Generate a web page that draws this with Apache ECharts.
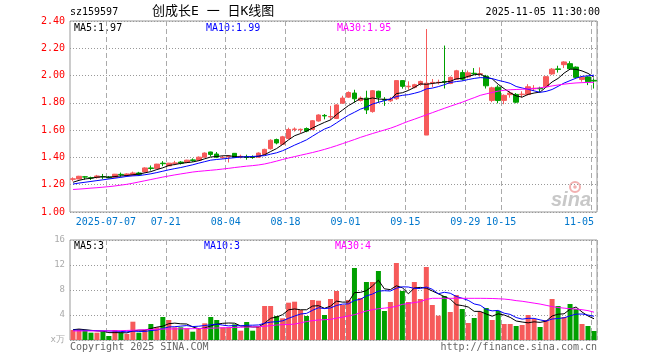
<!DOCTYPE html>
<html><head><meta charset="utf-8">
<script src="https://cdn.jsdelivr.net/npm/echarts@6/dist/echarts.min.js"></script>
<style>html,body{margin:0;padding:0;background:#fff}#c{width:660px;height:360px}</style>
</head><body><div id="c"></div>
<script>
const dates = ['2025-06-27','2025-06-30',
'2025-07-01','2025-07-02','2025-07-03','2025-07-04','2025-07-07','2025-07-08','2025-07-09','2025-07-10','2025-07-11','2025-07-14','2025-07-15','2025-07-16','2025-07-17','2025-07-18','2025-07-21','2025-07-22','2025-07-23','2025-07-24','2025-07-25','2025-07-28','2025-07-29','2025-07-30','2025-07-31',
'2025-08-01','2025-08-04','2025-08-05','2025-08-06','2025-08-07','2025-08-08','2025-08-11','2025-08-12','2025-08-13','2025-08-14','2025-08-15','2025-08-18','2025-08-19','2025-08-20','2025-08-21','2025-08-22','2025-08-25','2025-08-26','2025-08-27','2025-08-28','2025-08-29',
'2025-09-01','2025-09-02','2025-09-03','2025-09-04','2025-09-05','2025-09-08','2025-09-09','2025-09-10','2025-09-11','2025-09-12','2025-09-15','2025-09-16','2025-09-17','2025-09-18','2025-09-19','2025-09-22','2025-09-23','2025-09-24','2025-09-25','2025-09-26','2025-09-29','2025-09-30',
'2025-10-09','2025-10-10','2025-10-13','2025-10-14','2025-10-15','2025-10-16','2025-10-17','2025-10-20','2025-10-21','2025-10-22','2025-10-23','2025-10-24','2025-10-27','2025-10-28','2025-10-29','2025-10-30','2025-10-31',
'2025-11-03','2025-11-04','2025-11-05'];
const tickDates = ['2025-07-07','2025-07-21','2025-08-04','2025-08-18','2025-09-01','2025-09-15','2025-09-29','2025-10-15','2025-11-05'];

const opens = [1.240,1.242,1.258,1.251,1.252,1.260,1.256,1.254,1.276,1.267,1.269,1.286,1.294,1.323,1.318,1.358,1.338,1.356,1.366,1.363,1.382,1.380,1.402,1.440,1.425,1.398,1.405,1.430,1.405,1.404,
1.404,1.402,1.422,1.464,1.531,1.496,1.538,1.605,1.603,1.612,1.605,1.667,1.708,1.697,1.686,1.798,1.842,1.872,1.817,1.835,
1.736,1.885,1.825,1.815,1.830,1.963,1.918,1.914,1.935,1.564,1.946,1.948,1.957,1.942,1.973,2.022,1.990,2.017,2.010,1.995,
1.818,1.915,1.818,1.860,1.862,1.860,1.862,1.903,1.907,1.918,2.012,2.049,2.080,2.087,2.062,1.972,1.990,1.965];
const closes = [1.243,1.262,1.256,1.249,1.264,1.258,1.250,1.277,1.273,1.279,1.286,1.274,1.323,1.319,1.351,1.354,1.358,1.360,1.358,1.380,1.378,1.402,1.432,1.422,1.402,1.400,1.408,1.400,1.408,1.400,
1.400,1.432,1.459,1.526,1.506,1.551,1.605,1.608,1.606,1.593,1.669,1.711,1.704,1.700,1.785,1.835,1.876,1.830,1.835,1.748,
1.889,1.840,1.820,1.827,1.963,1.921,1.922,1.933,1.957,1.944,1.950,1.951,1.953,1.987,2.035,1.973,2.020,2.013,2.013,1.925,
1.910,1.817,1.855,1.872,1.805,1.864,1.918,1.907,1.903,1.992,2.047,2.045,2.100,2.050,1.987,1.987,1.955,1.960];
const highs = [1.254,1.265,1.264,1.259,1.272,1.279,1.264,1.279,1.289,1.284,1.296,1.294,1.328,1.341,1.353,1.373,1.360,1.375,1.373,1.383,1.393,1.407,1.437,1.442,1.440,1.412,1.417,1.432,1.420,1.420,
1.415,1.437,1.464,1.533,1.538,1.558,1.618,1.620,1.612,1.620,1.674,1.716,1.718,1.778,1.790,1.852,1.884,1.896,1.847,1.889,
1.894,1.889,1.842,1.842,1.963,1.965,1.958,1.940,1.963,2.341,1.975,1.970,2.220,1.993,2.042,2.042,2.037,2.055,2.060,2.005,
1.918,1.930,1.862,1.885,1.872,1.885,1.937,1.930,1.918,1.997,2.055,2.072,2.105,2.105,2.067,1.992,1.995,1.980];
const lows = [1.225,1.240,1.237,1.235,1.245,1.242,1.247,1.252,1.259,1.259,1.267,1.264,1.289,1.304,1.316,1.336,1.336,1.343,1.348,1.358,1.368,1.375,1.398,1.407,1.395,1.390,1.363,1.398,1.393,1.383,
1.390,1.398,1.417,1.457,1.496,1.494,1.533,1.590,1.578,1.585,1.600,1.662,1.679,1.674,1.681,1.793,1.837,1.802,1.810,1.718,
1.728,1.800,1.778,1.807,1.822,1.904,1.896,1.906,1.925,1.564,1.915,1.935,1.905,1.937,1.968,1.963,1.980,2.005,1.993,1.905,
1.805,1.797,1.790,1.838,1.797,1.838,1.855,1.887,1.880,1.912,2.005,2.022,2.055,2.042,1.980,1.955,1.930,1.905];
const volumes = [1.6,1.76,1.6,1.17,1.17,1.33,0.64,1.6,1.17,0.96,2.93,1.17,1.6,2.56,2.03,3.68,3.2,2.03,2.03,1.87,1.33,1.76,2.67,3.68,3.2,2.03,2.03,2.5,1.49,2.88,
1.49,2.13,5.44,5.44,3.84,3.47,5.97,6.13,4.8,3.84,6.4,6.29,4.0,6.56,7.84,5.6,6.4,11.52,6.72,9.28,
9.28,11.04,4.64,6.08,12.32,7.84,6.08,9.28,6.56,11.68,5.6,3.89,7.04,4.48,7.2,4.96,2.72,3.52,4.48,5.12,
3.2,4.64,2.56,2.56,2.24,2.4,4.0,3.36,2.08,3.2,6.56,5.44,3.68,5.76,4.96,2.56,2.24,1.44];

const ma5 = [1.218,1.232,1.242,1.247,1.255,1.258,1.255,1.260,1.264,1.267,1.273,1.278,1.287,1.296,1.311,1.324,1.341,1.348,1.356,1.362,1.367,1.376,1.390,1.403,1.407,1.412,1.413,1.406,1.404,1.403,
1.403,1.408,1.420,1.443,1.465,1.495,1.529,1.559,1.575,1.593,1.616,1.637,1.657,1.675,1.714,1.747,1.780,1.805,1.832,1.825,
1.836,1.828,1.826,1.825,1.868,1.874,1.891,1.913,1.939,1.936,1.942,1.948,1.952,1.958,1.976,1.980,1.994,2.006,2.011,1.989,
1.976,1.936,1.904,1.875,1.851,1.842,1.862,1.872,1.879,1.916,1.953,1.979,2.018,2.047,2.046,2.034,2.016,1.988];
const ma10 = [1.205,1.212,1.218,1.224,1.230,1.236,1.242,1.248,1.254,1.261,1.265,1.267,1.273,1.280,1.289,1.299,1.309,1.318,1.326,1.336,1.346,1.358,1.369,1.380,1.385,1.389,1.394,1.398,1.403,1.405,
1.407,1.410,1.413,1.424,1.434,1.449,1.469,1.490,1.509,1.529,1.556,1.583,1.608,1.625,1.653,1.682,1.709,1.731,1.754,1.769,
1.791,1.804,1.816,1.829,1.846,1.855,1.860,1.870,1.882,1.902,1.908,1.919,1.933,1.949,1.956,1.961,1.971,1.979,1.985,1.983,
1.978,1.965,1.955,1.943,1.920,1.909,1.899,1.888,1.877,1.884,1.898,1.921,1.945,1.963,1.981,1.994,1.998,2.003];
const ma30 = [1.165,1.168,1.171,1.175,1.178,1.182,1.186,1.191,1.197,1.203,1.211,1.220,1.229,1.238,1.247,1.256,1.264,1.272,1.279,1.286,1.293,1.298,1.302,1.306,1.310,1.315,1.320,1.326,1.331,1.336,
1.340,1.345,1.352,1.362,1.373,1.385,1.396,1.406,1.416,1.426,1.436,1.447,1.459,1.472,1.486,1.501,1.516,1.531,1.547,1.561,
1.575,1.588,1.601,1.614,1.630,1.648,1.665,1.680,1.696,1.712,1.728,1.744,1.760,1.775,1.790,1.805,1.822,1.838,1.855,1.866,
1.876,1.886,1.892,1.896,1.898,1.900,1.902,1.905,1.910,1.917,1.924,1.931,1.937,1.942,1.946,1.948,1.950,1.950];
const volMa5 = [1.65,1.75,1.65,1.55,1.46,1.41,1.18,1.18,1.18,1.14,1.46,1.57,1.57,1.84,2.06,2.21,2.61,2.70,2.59,2.56,2.09,1.80,1.93,2.26,2.53,2.67,2.72,2.69,2.25,2.19,
2.08,2.10,2.69,3.48,3.67,4.06,4.83,4.97,4.84,4.84,5.43,5.49,5.07,5.42,6.22,6.06,6.08,7.58,7.62,7.90,
8.64,9.57,8.19,8.06,8.67,8.38,7.39,8.32,8.42,8.29,7.84,7.40,6.95,6.54,5.64,5.51,5.28,4.58,4.58,4.16,
3.81,4.19,4.00,3.62,3.04,2.88,2.75,2.91,2.82,3.01,3.84,4.13,4.19,4.93,5.28,4.48,3.85,3.40];
const volMa10 = [1.6,1.58,1.55,1.52,1.5,1.48,1.45,1.42,1.38,1.30,1.43,1.37,1.37,1.51,1.60,1.83,2.09,2.13,2.22,2.31,2.15,2.21,2.32,2.43,2.55,2.38,2.26,2.31,2.26,2.36,
2.37,2.41,2.69,2.86,2.93,3.07,3.47,3.83,4.16,4.26,4.75,5.16,5.02,5.13,5.53,5.74,5.79,6.33,6.52,7.06,
7.35,7.82,7.89,7.84,8.29,8.51,8.48,8.26,8.24,8.48,8.11,7.40,7.64,7.48,6.97,6.68,6.34,5.77,5.56,4.90,
4.66,4.74,4.29,4.10,3.60,3.34,3.47,3.46,3.22,3.02,3.36,3.44,3.55,3.87,4.14,4.16,3.99,3.80];
const volMa30 = [1.45,1.45,1.45,1.45,1.45,1.46,1.47,1.48,1.5,1.53,1.56,1.6,1.64,1.68,1.72,1.75,1.77,1.78,1.79,1.8,1.81,1.83,1.86,1.89,1.92,1.95,1.98,2.01,2.04,2.07,
2.1,2.13,2.2,2.3,2.4,2.45,2.48,2.55,2.75,2.95,3.1,3.2,3.25,3.3,3.5,3.65,3.85,4.05,4.35,4.65,
4.85,5.0,5.1,5.2,5.4,5.7,5.85,6.0,6.13,6.5,6.67,6.67,6.67,6.67,6.67,6.67,6.67,6.67,6.67,6.66,
6.64,6.6,6.55,6.45,6.3,6.2,6.05,5.9,5.75,5.55,5.35,5.2,5.1,5.0,4.95,4.85,4.7,4.45];
const volUnit = 'x万';

const UP = '#f65a5a', DOWN = '#00a000';
const MONO = 'DejaVu Sans Mono';
const tickIdx = new Set(tickDates.map(d => dates.indexOf(d)));
const lastTick = dates.indexOf(tickDates[tickDates.length - 1]);
const firstTick = dates.indexOf(tickDates[0]);
const showTick = (i) => tickIdx.has(i);

const candleData = dates.map((d, i) => [opens[i], closes[i], lows[i], highs[i]]);
const volData = volumes.map((v, i) => ({ value: v, itemStyle: { color: closes[i] >= opens[i] ? UP : DOWN } }));

const dashV = { show: true, interval: showTick, lineStyle: { color: '#aaa', type: [5, 3], width: 1 } };
const dotH = { show: true, lineStyle: { color: '#999', type: [1, 2], width: 1 } };

const chart = echarts.init(document.getElementById('c'), null, { renderer: 'canvas' });
const txt = (x, y, s, color, align, size, font) => ({
  type: 'text', x: x, y: y, silent: true,
  style: { text: s, fill: color, font: (size || 10) + 'px ' + (font || MONO), textAlign: align || 'left', textVerticalAlign: 'middle' }
});
chart.setOption({
  animation: false,
  backgroundColor: '#fff',
  grid: [
    { left: 70, right: 63, top: 21, height: 191, show: true, borderColor: '#999', borderWidth: 1, backgroundColor: 'transparent' },
    { left: 70, right: 63, top: 240, height: 100, show: true, borderColor: '#999', borderWidth: 1, backgroundColor: 'transparent' }
  ],
  xAxis: [
    { type: 'category', gridIndex: 0, data: dates, boundaryGap: true,
      axisLine: { show: false }, axisTick: { show: false },
      axisLabel: { interval: showTick, margin: 5, color: '#0077cc', fontFamily: MONO, fontSize: 10,
        alignMaxLabel: 'right',
        formatter: (v) => {
          const idx = dates.indexOf(v);
          const s = idx === firstTick ? v : v.slice(5);
          return idx === lastTick ? '{b|' + s + '}' : '{a|' + s + '}';
        },
        rich: { a: { padding: [0, 6, 0, 0], color: '#0077cc', fontFamily: MONO, fontSize: 10 },
                b: { color: '#0077cc', fontFamily: MONO, fontSize: 10 } } },
      splitLine: dashV },
    { type: 'category', gridIndex: 1, data: dates, boundaryGap: true,
      axisLine: { show: false }, axisTick: { show: false }, axisLabel: { show: false },
      splitLine: dashV }
  ],
  yAxis: [
    { type: 'value', gridIndex: 0, min: 1.0, max: 2.4, interval: 0.2,
      axisLine: { show: false }, axisTick: { show: false },
      axisLabel: { color: '#ff0000', fontFamily: MONO, fontSize: 10, margin: 5, formatter: v => v.toFixed(2) },
      splitLine: dotH },
    { type: 'value', gridIndex: 1, min: 0, max: 16, interval: 4,
      axisLine: { show: false }, axisTick: { show: false },
      axisLabel: { color: '#aaa', fontFamily: MONO, fontSize: 9, margin: 5, formatter: v => v === 0 ? volUnit : String(v) },
      splitLine: dotH }
  ],
  series: [
    { type: 'candlestick', xAxisIndex: 0, yAxisIndex: 0, data: candleData, barWidth: 5,
      itemStyle: { color: UP, color0: DOWN, borderColor: UP, borderColor0: DOWN, borderWidth: 1 } },
    { type: 'line', xAxisIndex: 0, yAxisIndex: 0, data: ma5, showSymbol: false, lineStyle: { color: '#000', width: 1 }, z: 5 },
    { type: 'line', xAxisIndex: 0, yAxisIndex: 0, data: ma10, showSymbol: false, lineStyle: { color: '#0000ff', width: 1 }, z: 5 },
    { type: 'line', xAxisIndex: 0, yAxisIndex: 0, data: ma30, showSymbol: false, lineStyle: { color: '#ff00ff', width: 1 }, z: 5 },
    { type: 'bar', xAxisIndex: 1, yAxisIndex: 1, data: volData, barWidth: 5 },
    { type: 'line', xAxisIndex: 1, yAxisIndex: 1, data: volMa5, showSymbol: false, lineStyle: { color: '#000', width: 1 }, z: 5 },
    { type: 'line', xAxisIndex: 1, yAxisIndex: 1, data: volMa10, showSymbol: false, lineStyle: { color: '#0000ff', width: 1 }, z: 5 },
    { type: 'line', xAxisIndex: 1, yAxisIndex: 1, data: volMa30, showSymbol: false, lineStyle: { color: '#ff00ff', width: 1 }, z: 5 }
  ],
  graphic: [
    txt(70, 12, 'sz159597', '#000', 'left', 10),
    txt(152, 12, '创成长E 一 日K线图', '#000', 'left', 13, "'DejaVu Sans Mono','Noto Sans CJK SC'"),
    txt(600, 12, '2025-11-05 11:30:00', '#000', 'right', 10),
    txt(74, 28, 'MA5:1.97', '#000', 'left'),
    txt(206, 28, 'MA10:1.99', '#0000ff', 'left'),
    txt(337, 28, 'MA30:1.95', '#ff00ff', 'left'),
    txt(74, 246, 'MA5:3', '#000', 'left'),
    txt(204, 246, 'MA10:3', '#0000ff', 'left'),
    txt(335, 246, 'MA30:4', '#ff00ff', 'left'),
    txt(70, 347, 'Copyright 2025 SINA.COM', '#666', 'left', 10),
    txt(597, 347, 'http://finance.sina.com.cn', '#666', 'right', 10),
    { type: 'circle', x: 575, y: 187, silent: true, shape: { r: 5 }, style: { fill: 'none', stroke: '#f2b0b0', lineWidth: 2 } },
    { type: 'circle', x: 575, y: 187, silent: true, shape: { r: 1.8 }, style: { fill: '#f2b0b0' } },
    { type: 'text', x: 571, y: 200, silent: true, style: { text: 'sina', fill: '#c8c8c8', font: 'italic bold 20px Arial, Liberation Sans', textAlign: 'center', textVerticalAlign: 'middle' } }
  ]
});
</script></body></html>
